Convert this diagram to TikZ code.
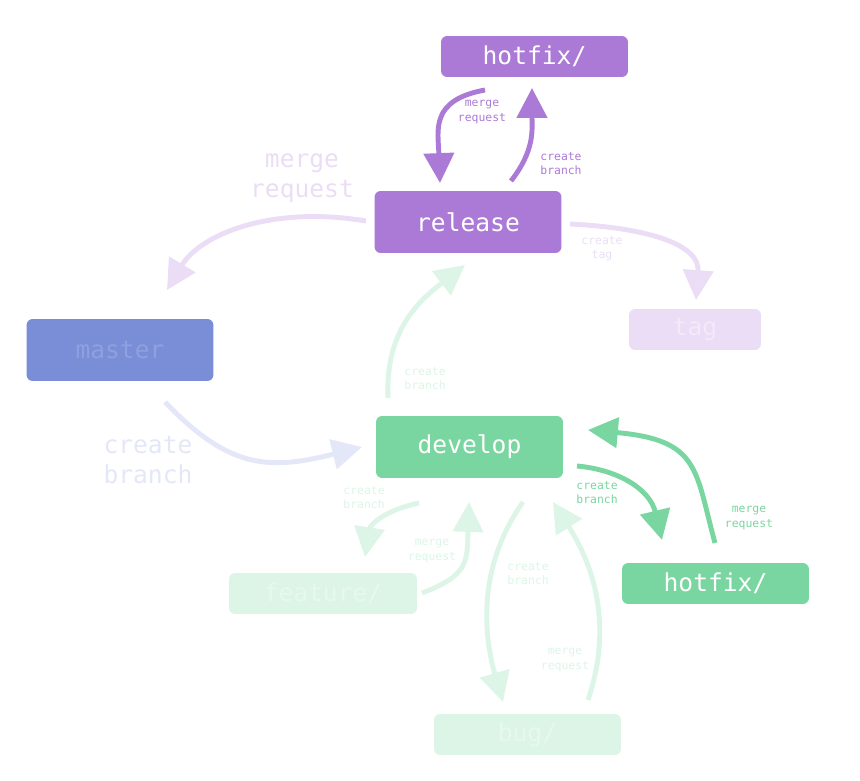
\documentclass[tikz,border=0pt]{standalone}
\usepackage{fontspec}
\setmonofont{DejaVu Sans Mono}
\usepackage{tikz}
\usetikzlibrary{arrows.meta, positioning}

\definecolor{gfpurple}{HTML}{AB7AD6}
\definecolor{gflilac}{HTML}{EBDDF5}
\definecolor{gflilactext}{HTML}{F2EAF9}
\definecolor{gfblue}{HTML}{7A8ED8}
\definecolor{gfbluetext}{HTML}{8F9FDF}
\definecolor{gfpaleblue}{HTML}{E4E7F7}
\definecolor{gfgreen}{HTML}{7AD6A0}
\definecolor{gfmint}{HTML}{DCF5E6}
\definecolor{gfminttext}{HTML}{E7F9EE}

\begin{document}
\begin{tikzpicture}[
    x=0.02cm, y=-0.02cm,
    >={Triangle[length=17pt, width=17pt]},
    branchbox/.style={rectangle, rounded corners=3.5pt, minimum width=3.74cm, font=\fontsize{14}{16}\selectfont\ttfamily, text=white, inner sep=0pt},
    bigbox/.style={branchbox, minimum height=1.24cm},
    smallbox/.style={branchbox, minimum height=0.82cm},
    flow/.style={->, line width=2.8pt},
    tinylabel/.style={font=\fontsize{6.5}{8}\selectfont\ttfamily, align=center},
    biglabel/.style={font=\fontsize{14}{16.8}\selectfont\ttfamily, align=center},
]
\useasboundingbox (0,0) rectangle (860,781);

% Branch boxes
\node[smallbox, fill=gfpurple] (hotfixtop) at (534.5,56.5) {hotfix/};
\node[bigbox, fill=gfpurple] (release) at (468,222) {release};
\node[smallbox, fill=gflilac, text=gflilactext, minimum width=2.64cm] (tag) at (695,329.5) {tag};
\node[bigbox, fill=gfblue, text=gfbluetext] (master) at (120,350) {master};
\node[bigbox, fill=gfgreen] (develop) at (469.5,447) {develop};
\node[smallbox, fill=gfgreen] (hotfixdev) at (715.5,583.5) {hotfix/};
\node[smallbox, fill=gfmint, text=gfminttext, minimum width=3.76cm] (feature) at (323,593.5) {feature/};
\node[smallbox, fill=gfmint, text=gfminttext] (bug) at (527.5,734.5) {bug/};

% Connector end points
\coordinate (relL) at (366,221);
\coordinate (masterTip) at (167,290);
\coordinate (hfTopOut) at (485,90);
\coordinate (relTopIn) at (440,183);
\coordinate (relTopOut) at (511,181);
\coordinate (hfTopIn) at (532,88);
\coordinate (relR) at (570,224);
\coordinate (tagTip) at (696,300);
\coordinate (devUp) at (388,398);
\coordinate (relBot) at (465,265);
\coordinate (masterOut) at (165,402);
\coordinate (devL) at (362,447);
\coordinate (devR) at (577,466);
\coordinate (hfDevIn) at (662,540);
\coordinate (hfDevOut) at (715,543);
\coordinate (devRin) at (588,430);
\coordinate (devFeatOut) at (419,503);
\coordinate (featIn) at (365,557);
\coordinate (featOut) at (422,593);
\coordinate (devFeatIn) at (469,502);
\coordinate (devBugOut) at (523,502);
\coordinate (bugIn) at (503,702);
\coordinate (bugOut) at (588,700);
\coordinate (devBugIn) at (553,502);

% release <-> master, tag, hotfix
\draw[flow, gflilac] (relL) .. controls (270,205) and (200,235) .. (masterTip);
\draw[flow, gfpurple] (hfTopOut) .. controls (430,100) and (438,130) .. (relTopIn);
\draw[flow, gfpurple] (relTopOut) .. controls (535,150) and (532,130) .. (hfTopIn);
\draw[flow, gflilac] (relR) .. controls (650,228) and (700,245) .. (tagTip);

% develop <-> release, master
\draw[flow, gfmint] (devUp) .. controls (385,330) and (420,300) .. (relBot);
\draw[flow, gfpaleblue] (masterOut) .. controls (230,470) and (270,470) .. (devL);

% develop <-> hotfix
\draw[flow, gfgreen] (devR) .. controls (620,470) and (650,490) .. (hfDevIn);
\draw[flow, gfgreen] (hfDevOut) .. controls (695,470) and (700,440) .. (devRin);

% develop <-> feature, bug
\draw[flow, gfmint] (devFeatOut) .. controls (385,510) and (370,525) .. (featIn);
\draw[flow, gfmint] (featOut) .. controls (470,575) and (467,560) .. (devFeatIn);
\draw[flow, gfmint] (devBugOut) .. controls (475,570) and (485,640) .. (bugIn);
\draw[flow, gfmint] (bugOut) .. controls (615,620) and (590,560) .. (devBugIn);

% Labels
\node[tinylabel, text=gfpurple] (lblA) at (482,112) {merge\\request};
\node[tinylabel, text=gfpurple] (lblB) at (561,164) {create\\branch};
\node[biglabel, text=gflilac] (lblC) at (302,178) {merge\\request};
\node[tinylabel, text=gflilac] (lblD) at (602,249) {create\\tag};
\node[tinylabel, text=gfmint] (lblE) at (425,379) {create\\branch};
\node[biglabel, text=gfpaleblue] (lblF) at (148,460) {create\\branch};
\node[tinylabel, text=gfmint] (lblG) at (364,498) {create\\branch};
\node[tinylabel, text=gfgreen] (lblH) at (597,493) {create\\branch};
\node[tinylabel, text=gfgreen] (lblI) at (749,518) {merge\\request};
\node[tinylabel, text=gfmint] (lblJ) at (432,551) {merge\\request};
\node[tinylabel, text=gfmint] (lblK) at (528,574) {create\\branch};
\node[tinylabel, text=gfmint] (lblL) at (565,660) {merge\\request};

\end{tikzpicture}
\end{document}
